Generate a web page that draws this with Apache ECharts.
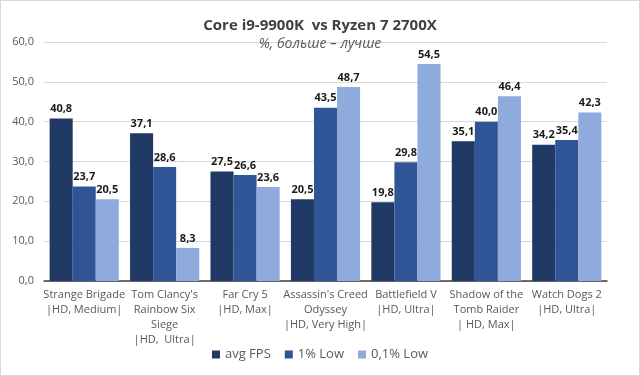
<!DOCTYPE html>
<html>
<head>
<meta charset="utf-8">
<script src="https://cdn.jsdelivr.net/npm/echarts@6/dist/echarts.min.js"></script>
<style>
  html, body { margin: 0; padding: 0; background: #fff; }
  #chart { width: 640px; height: 376px; box-sizing: border-box; border: 1px solid #d9d9d9; }
</style>
</head>
<body>
<div id="chart"></div>
<script>
const categories = [
    'Strange Brigade\n|HD, Medium|',
    "Tom Clancy's\nRainbow Six\nSiege\n|HD,  Ultra|",
    'Far Cry 5\n|HD, Max|',
    "Assassin's Creed\nOdyssey\n|HD, Very High|",
    'Battlefield V\n|HD, Ultra|',
    'Shadow of the\nTomb Raider\n| HD, Max|',
    'Watch Dogs 2\n|HD, Ultra|'
];
const avgFps = [40.8, 37.1, 27.5, 20.5, 19.8, 35.1, 34.2];
const low1 = [23.7, 28.6, 26.6, 43.5, 29.8, 40.0, 35.4];
const low01 = [20.5, 8.3, 23.6, 48.7, 54.5, 46.4, 42.3];
const seriesNames = ['avg FPS', '1% Low', '0,1% Low'];
const colors = ['#1f3864', '#2f5597', '#8faadc'];

const fmt = v => v.toFixed(1).replace('.', ',');
const font = 'Open Sans, sans-serif';

const chart = echarts.init(document.getElementById('chart'));

function makeSeries(name, data, color) {
    return {
        name: name,
        type: 'bar',
        data: data,
        barGap: 0,
        barCategoryGap: '14%',
        itemStyle: { color: color },
        label: {
            show: true,
            position: 'top',
            distance: 4,
            formatter: p => fmt(p.value),
            fontFamily: font,
            fontWeight: 'bold',
            fontSize: 11,
            color: '#1a1a1a'
        }
    };
}

chart.setOption({
    backgroundColor: '#ffffff',
    animation: false,
    color: colors,
    title: {
        text: 'Core i9-9900K  vs Ryzen 7 2700X',
        subtext: '%, больше – лучше',
        left: 'center',
        top: 12,
        itemGap: 4,
        textStyle: { fontFamily: font, fontWeight: 'bold', fontSize: 15, color: '#404040' },
        subtextStyle: { fontFamily: font, fontStyle: 'italic', fontSize: 14, color: '#595959' }
    },
    legend: {
        data: seriesNames,
        bottom: 9,
        left: 'center',
        icon: 'rect',
        itemWidth: 8,
        itemHeight: 8,
        itemGap: 14,
        textStyle: { fontFamily: font, fontSize: 13, color: '#595959' }
    },
    grid: {
        left: 43,
        right: 32,
        top: 41,
        bottom: 94
    },
    xAxis: {
        type: 'category',
        data: categories,
        axisLine: { lineStyle: { color: '#404040', width: 1.5 } },
        axisTick: { show: false },
        axisLabel: {
            interval: 0,
            fontFamily: font,
            fontSize: 11,
            lineHeight: 14.7,
            color: '#595959',
            margin: 7
        }
    },
    yAxis: {
        type: 'value',
        min: 0,
        max: 60,
        interval: 10,
        axisLine: { show: false },
        axisTick: { show: false },
        splitLine: { lineStyle: { color: '#d9d9d9' } },
        axisLabel: {
            formatter: v => fmt(v),
            fontFamily: font,
            fontSize: 11,
            color: '#595959',
            margin: 10
        }
    },
    series: [
        makeSeries(seriesNames[0], avgFps, colors[0]),
        makeSeries(seriesNames[1], low1, colors[1]),
        makeSeries(seriesNames[2], low01, colors[2])
    ]
});
</script>
</body>
</html>
